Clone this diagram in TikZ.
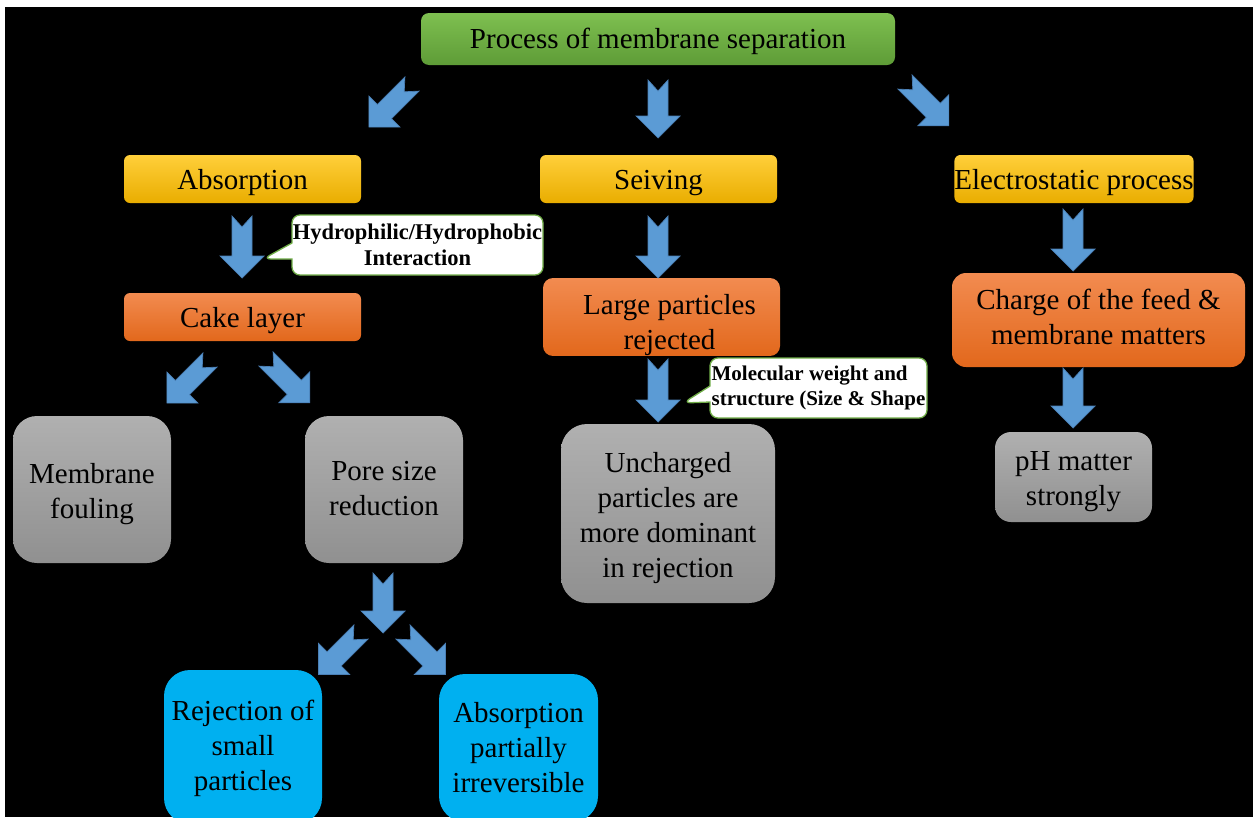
\documentclass[tikz,border=0pt]{standalone}
\usepackage{fontspec}
\setmainfont{Liberation Serif}
\usetikzlibrary{shapes.callouts}
\definecolor{gtop}{HTML}{7EBF50}
\definecolor{gbot}{HTML}{5E9C37}
\definecolor{ytop}{HTML}{FFCF3A}
\definecolor{ybot}{HTML}{E9AD00}
\definecolor{otop}{HTML}{F28B50}
\definecolor{obot}{HTML}{E2681C}
\definecolor{grtop}{HTML}{B0B0B0}
\definecolor{grbot}{HTML}{909090}
\definecolor{cyanbox}{HTML}{00B0F0}
\definecolor{arrfill}{HTML}{5B9BD5}
\definecolor{arredge}{HTML}{4A7FB5}
\definecolor{callgreen}{HTML}{70AD47}
\newcommand\mainfs{\fontsize{29}{35}\selectfont}
\newcommand\callfs{\fontsize{22.5}{26}\selectfont\bfseries}
\newcommand\molfs{\fontsize{21}{25}\selectfont\bfseries}
\newcommand\blockarrow[4]{%
  \filldraw[barrow,shift={(#1,#2)},rotate=#3]
    (0,10) -- ({#4-22},10) -- ({#4-22},22) -- (#4,0) -- ({#4-22},-22)
    -- ({#4-22},-10) -- (0,-10) -- (11,0) -- cycle;}
\begin{document}
\begin{tikzpicture}[x=1pt,y=-1pt,
  every node/.style={inner sep=0pt, text=black, align=center},
  greenbox/.style={rounded corners=8pt, top color=gtop, bottom color=gbot, font=\mainfs},
  yellowbox/.style={rounded corners=6pt, top color=ytop, bottom color=ybot, font=\mainfs, text height=27.8pt},
  orangebox/.style={top color=otop, bottom color=obot, font=\mainfs},
  graybox/.style={top color=grtop, bottom color=grbot, font=\mainfs},
  bluebox/.style={fill=cyanbox, rounded corners=26pt, font=\mainfs},
  callbox/.style={rectangle callout, draw=callgreen, line width=1.3pt, fill=white,
     rounded corners=8pt, callout pointer width=16pt},
  barrow/.style={fill=arrfill, draw=arredge, line width=0.7pt, line join=miter}]
\useasboundingbox (0,0) rectangle (1253,817);
\fill[white] (0,0) rectangle (1253,817);
\fill[black] (5,7) rectangle (1253,817);

% nodes
\node[greenbox, text height=25.8pt, minimum width=474pt, minimum height=52pt] (top) at (658,39) {Process of membrane separation};

\node[yellowbox, minimum width=237pt, minimum height=48pt] (abs) at (242.5,179) {Absorption};
\node[yellowbox, minimum width=237pt, minimum height=48pt] (seiv) at (658.5,179) {Seiving};
\node[yellowbox, minimum width=236pt, minimum height=48pt] (elec) at (1074,179) {Electrostatic process};

\node[orangebox, text height=27.8pt, rounded corners=6pt, minimum width=237pt, minimum height=48pt] (cake) at (242.5,317) {Cake layer};
\node[orangebox, text height=71.8pt, rounded corners=10pt, minimum width=237pt, minimum height=74pt] (large) at (661.5,317) {\hspace*{16pt}Large particles\\\hspace*{16pt}rejected};
\node[orangebox, text height=48.8pt, rounded corners=14pt, minimum width=293pt, minimum height=94pt] (charge) at (1098.5,320) {Charge of the feed \&\\membrane matters};

\node[graybox, text height=64.8pt, rounded corners=24pt, minimum width=158pt, minimum height=147pt] (foul) at (92,489.5) {Membrane\\fouling};
\node[graybox, text height=52.2pt, rounded corners=24pt, minimum width=158pt, minimum height=147pt] (pore) at (384,489.5) {Pore size\\reduction};
\node[graybox, text height=134.8pt, rounded corners=26pt, minimum width=214pt, minimum height=179pt] (unch) at (668,513.5) {Uncharged\\particles are\\more dominant\\in rejection};
\node[graybox, text height=64.2pt, rounded corners=16pt, minimum width=157pt, minimum height=90pt] (ph) at (1073.5,477) {pH matter\\strongly};

\node[bluebox, text height=93.8pt, minimum width=158pt, minimum height=154pt] (rej) at (243,747) {Rejection of\\small\\particles};
\node[bluebox, minimum width=159pt, minimum height=148pt] (absp) at (518.5,748) {Absorption\\partially\\irreversible};

% callouts
\node[callbox, font=\callfs, minimum width=251pt, minimum height=60pt, callout absolute pointer={(263,259)}] (hyd) at (417.5,245) {Hydrophilic/Hydrophobic\\Interaction};
\node[callbox, font=\molfs, align=left, minimum width=217pt, minimum height=60pt, callout absolute pointer={(683,403)}] (mol) at (818.5,388) {Molecular weight and\\structure (Size \& Shape};

% block arrows
\blockarrow{412}{84}{-135}{61}
\blockarrow{658}{80}{-90}{58}
\blockarrow{905}{82}{-45}{62}
\blockarrow{242}{216}{-90}{62}
\blockarrow{658}{216}{-90}{62}
\blockarrow{1073}{209}{-90}{62}
\blockarrow{210}{360}{-135}{61}
\blockarrow{266}{359}{-45}{62}
\blockarrow{658}{359}{-90}{63}
\blockarrow{1073}{368}{-90}{60}
\blockarrow{383}{573}{-90}{60}
\blockarrow{361}{632}{-135}{60}
\blockarrow{403}{632}{-45}{60}
\end{tikzpicture}
\end{document}
